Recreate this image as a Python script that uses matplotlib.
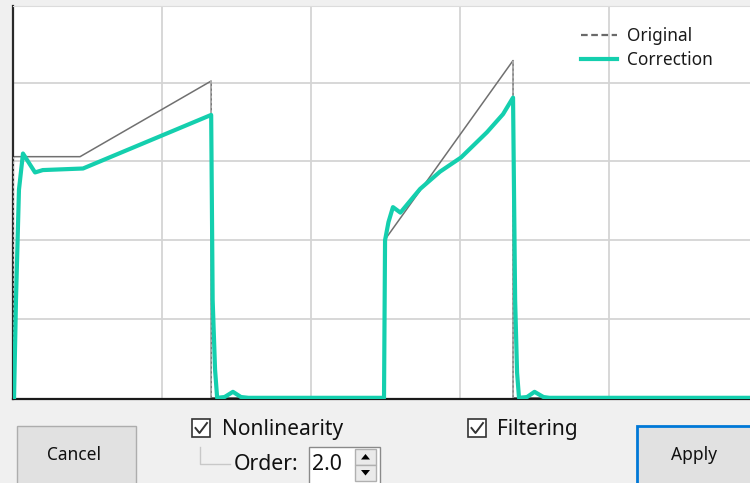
import numpy as np
import matplotlib
matplotlib.use('Agg')
import matplotlib.pyplot as plt
from matplotlib.lines import Line2D
from matplotlib.patches import Rectangle, Polygon

plt.rcParams['font.family'] = ['Noto Sans', 'DejaVu Sans']

# original signal (gray)
orig_x = [0.0, 0.0, 0.45, 1.33, 1.33, 2.49, 2.49, 3.356, 3.356, 4.95]
orig_y = [0.0, 3.06, 3.06, 4.02, 0.0, 0.0, 1.99, 4.28, 0.0, 0.0]

# corrected signal (teal)
corr_x = [0.007, 0.02, 0.04, 0.067, 0.114, 0.148, 0.20, 0.47, 1.33, 1.34,
          1.356, 1.37, 1.42, 1.476, 1.53, 1.58, 2.49, 2.497, 2.52, 2.55,
          2.60, 2.732, 2.866, 3.007, 3.181, 3.289, 3.356, 3.37, 3.383, 3.396,
          3.45, 3.50, 3.56, 3.60, 4.95]
corr_y = [0.0, 1.24, 2.64, 3.10, 2.96, 2.86, 2.89, 2.91, 3.59, 1.24,
          0.36, 0.0, 0.01, 0.076, 0.01, 0.0, 0.0, 2.0, 2.23, 2.42,
          2.35, 2.65, 2.87, 3.05, 3.37, 3.60, 3.81, 1.24, 0.32, 0.0,
          0.01, 0.076, 0.01, 0.0, 0.0]

# indices of the vertical edges of the original, drawn dotted
edges = [(0, 1), (3, 4), (5, 6), (7, 8)]

W, H = 750, 483
fig = plt.figure(figsize=(W / 100, H / 100), dpi=100, facecolor='#f0f0f0')

# background layer in pixel coordinates for the dialog controls
bg = fig.add_axes([0, 0, 1, 1])
bg.set_xlim(0, W)
bg.set_ylim(H, 0)
bg.axis('off')

# chart
ax = fig.add_axes([13 / W, (H - 399) / H, 1 - 13 / W, 393 / H])
ax.set_facecolor('white')
ax.set_xlim(0, (W - 13) / 149)
ax.set_ylim(-0.015, 4.972)
ax.set_xticks([1, 2, 3, 4])
ax.set_yticks([1, 2, 3, 4])
ax.tick_params(length=0, labelbottom=False, labelleft=False)
ax.grid(True, color='#d4d4d4', lw=1.3)
ax.set_axisbelow(True)
ax.spines['right'].set_visible(False)
ax.spines['top'].set_color('#dcdcdc')
ax.spines['left'].set_color('#2a2a2a')
ax.spines['left'].set_linewidth(1.6)
ax.spines['bottom'].set_color('#1a1a1a')
ax.spines['bottom'].set_linewidth(1.6)

ax.plot(orig_x, orig_y, color='#707070', lw=1.1, zorder=2)
for a, b in edges:
    ax.plot([orig_x[a], orig_x[b]], [orig_y[a], orig_y[b]],
            color='#b0b0b0', lw=1.3, ls=(0, (1.5, 1.2)), zorder=3)
ax.plot(corr_x, corr_y, color='#14cfae', lw=3.0, zorder=4,
        solid_joinstyle='round')

handles = [Line2D([], [], color='#6a6a6a', lw=1.6, ls=(0, (3, 1.6))),
           Line2D([], [], color='#14cfae', lw=3.0)]
ax.legend(handles, ['Original', 'Correction'], frameon=False,
          loc='upper left', bbox_to_anchor=(581 / W, 1 - 27 / H),
          bbox_transform=fig.transFigure, fontsize=12.4,
          handlelength=2.1, handletextpad=0.55, labelspacing=0.33,
          borderpad=0, borderaxespad=0, labelcolor='#1a1a1a')

# dialog controls
txt = '#111111'
bg.add_patch(Rectangle((17, 426), 119, 70, fc='#e1e1e1', ec='#adadad', lw=1))
bg.text(74, 455, 'Cancel', ha='center', va='center', fontsize=12.5, color=txt)

bg.add_patch(Rectangle((637, 426), 130, 70, fc='#e1e1e1', ec='#0078d7', lw=2))
bg.text(694, 455, 'Apply', ha='center', va='center', fontsize=12.5, color=txt)

for bx in (192, 468):
    bg.add_patch(Rectangle((bx, 419), 18, 18, fc='white', ec='#333333', lw=1.2))
    bg.plot([bx + 3.5, bx + 7.5, bx + 15], [428, 433, 423],
            color='#333333', lw=1.4)
bg.text(222, 429, 'Nonlinearity', ha='left', va='center', fontsize=15, color=txt)
bg.text(497, 429, 'Filtering', ha='left', va='center', fontsize=15, color=txt)

bg.plot([200, 200, 230], [447, 464, 464], color='#c8c8c8', lw=1)
bg.text(234, 464, 'Order:', ha='left', va='center', fontsize=15.3, color=txt)

bg.add_patch(Rectangle((309, 447), 71, 50, fc='white', ec='#8a8a8a', lw=1))
bg.text(312, 464, '2.0', ha='left', va='center', fontsize=15.3, color=txt)
bg.add_patch(Rectangle((355, 449), 21, 15.5, fc='#eaeaea', ec='#b0b0b0', lw=1))
bg.add_patch(Rectangle((355, 465), 21, 15.5, fc='#eaeaea', ec='#b0b0b0', lw=1))
bg.add_patch(Polygon([(361, 459.5), (370, 459.5), (365.5, 454)], fc='black'))
bg.add_patch(Polygon([(361, 470), (370, 470), (365.5, 475.5)], fc='black'))

fig.savefig('out.png', dpi=100, facecolor=fig.get_facecolor())
